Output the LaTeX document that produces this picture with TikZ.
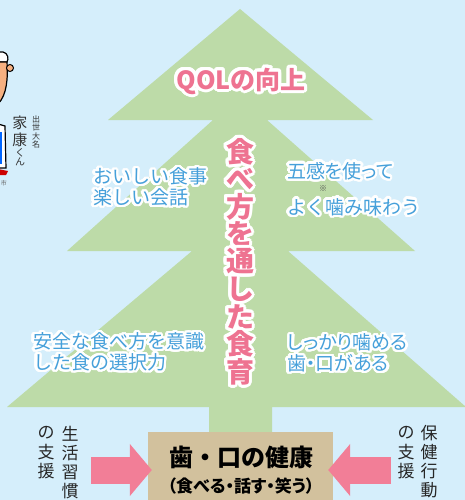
\documentclass[tikz,border=0pt]{standalone}
\usepackage{fontspec}
\newfontfamily\jp{Noto Sans CJK JP}
\newfontfamily\jpp[RawFeature=+palt]{Noto Sans CJK JP}
\usepackage{contour}
\contournumber{32}
\usetikzlibrary{arrows.meta}
\definecolor{sky}{RGB}{213,238,251}
\definecolor{leaf}{RGB}{189,219,168}
\definecolor{soil}{RGB}{210,193,157}
\definecolor{rose}{RGB}{242,126,151}
\definecolor{rosetext}{RGB}{238,115,145}
\definecolor{bluetext}{RGB}{70,160,218}
\definecolor{skin}{RGB}{246,176,128}
\newcommand{\halo}[1]{\contourlength{2.4pt}\contour{white}{#1}}
\newcommand{\bighalo}[1]{\contourlength{3pt}\contour{white}{#1}}
\tikzset{every node/.style={font=\jp, inner sep=0pt}}

\begin{document}
\begin{tikzpicture}[x=1pt, y=-1pt,
    pinktxt/.style={text=rosetext, font=\jp\bfseries\fontsize{25}{25}\selectfont},
    bluetxt/.style={text=bluetext, anchor=west, align=left, font=\jp\fontsize{19}{21}\selectfont},
    sidetxt/.style={text=black!85, font=\jp\fontsize{17}{17}\selectfont},
    bigarrow/.style={rose, line width=27pt, -{Triangle[length=22pt,width=51pt]}}]
      % \draw[gray,ultra thin] (0,0) grid[xstep=50,ystep=50] (465,500);
      \fill[sky] (0,0) rectangle (465,500);
      \clip (0,0) rectangle (465,500);

      % tree: three tiers and the trunk
      \fill[leaf] (240,9) -- (373,120) -- (267,120) -- (415,251) -- (288,251)
        -- (466,407) -- (272,407) -- (272,440) -- (209,440) -- (209,407)
        -- (7,407) -- (192,251) -- (67,251) -- (213,120) -- (108,120) -- cycle;

      % mascot at the edge
      \draw[black, line width=1.2pt, fill=white] (-2,52) -- (3,52) .. controls (8,53) and (9,59) .. (7,62) -- (-2,62);
      \draw[black, line width=1.2pt, fill=skin] (-2,62) -- (7,62) .. controls (8,78) and (7,95) .. (-2,104);
      \draw[black, line width=1pt, fill=skin] (10,68) circle (3.5);
      \draw[black, line width=1.2pt, fill=white] (-2,124) -- (5,126) -- (6,168) -- (-2,168);
      \fill[blue!60!cyan] (-2,132) rectangle (2,164);
      \fill[red!80!black] (-2,169) -- (8,171) -- (6,175) -- (-2,175) -- cycle;
      \foreach \c/\y in {家/122.5, 康/139.5}
        \node[text=black!80, font=\jp\fontsize{15}{15}\selectfont] (ieyasu\c) at (20,\y) {\c};
      \foreach \c/\y in {く/152.5, ん/161.5}
        \node[text=black!80, font=\jp\fontsize{10}{10}\selectfont] (ieyasu\c) at (20,\y) {\c};
      \foreach \c [count=\i from 0] in {出,世,大,名}
        \node[text=black!80, font=\jp\fontsize{8}{8}\selectfont] (title\i) at (36,{119+8.5*\i}) {\c};
      \node[text=black!60, font=\jp\fontsize{6}{6}\selectfont] (city) at (4,183) {市};

      % labels on the tree
      \node[pinktxt] (qol) at (241,82.5) {\bighalo{QOLの向上}};
      \foreach \c [count=\i from 0] in {食,べ,方,を,通,し,た,食,育}
        \node[pinktxt, font=\jp\bfseries\fontsize{28}{28}\selectfont] (axis\i) at (240,{153+27.5*\i}) {\bighalo{\c}};

      \node[bluetxt] (meal) at (93,188) {\halo{おいしい食事}\\\halo{楽しい会話}};
      \node[bluetxt, font=\jpp\fontsize{19}{21}\selectfont] (senses) at (287,172) {\halo{五感を使って}};
      \node[text=black!70, font=\jp\fontsize{8}{8}\selectfont] (note) at (323,189) {※};
      \node[bluetxt] (chew) at (287,208) {\halo{よく噛み味わう}};
      \node[bluetxt] (safe) at (33,353) {\halo{安全な食べ方を意識}\\\halo{した食の選択力}};
      \node[bluetxt, font=\jpp\fontsize{19}{21}\selectfont] (teeth) at (287,354) {\halo{しっかり噛める}\\\halo{歯・口がある}};

      % base box and the two supports
      \node[fill=soil, minimum width=185pt, minimum height=76pt] (health) at (240.5,470) {};
      \node[font=\jp\bfseries\fontsize{24}{24}\selectfont] (kenko) at (241,457) {歯・口の健康};
      \node[font=\jpp\bfseries\fontsize{17}{17}\selectfont] (kenkosub) at (241,486) {（食べる・話す・笑う）};

      \coordinate (lfrom) at (91,470);
      \coordinate (rfrom) at (391,470);
      \draw[bigarrow] (lfrom) -- ([xshift=4pt]health.west);
      \draw[bigarrow] (rfrom) -- ([xshift=-5pt]health.east);

      \foreach \c [count=\i from 0] in {生,活,習,慣}
        \node[sidetxt] (life\i) at (70,{434+19*\i}) {\c};
      \foreach \c [count=\i from 0] in {の,支,援}
        \node[sidetxt] (lifesup\i) at (46,{433+19*\i}) {\c};
      \foreach \c [count=\i from 0] in {保,健,行,動}
        \node[sidetxt] (care\i) at (429,{433+19*\i}) {\c};
      \foreach \c [count=\i from 0] in {の,支,援}
        \node[sidetxt] (caresup\i) at (406,{433+19*\i}) {\c};
    \end{tikzpicture}
\end{document}
